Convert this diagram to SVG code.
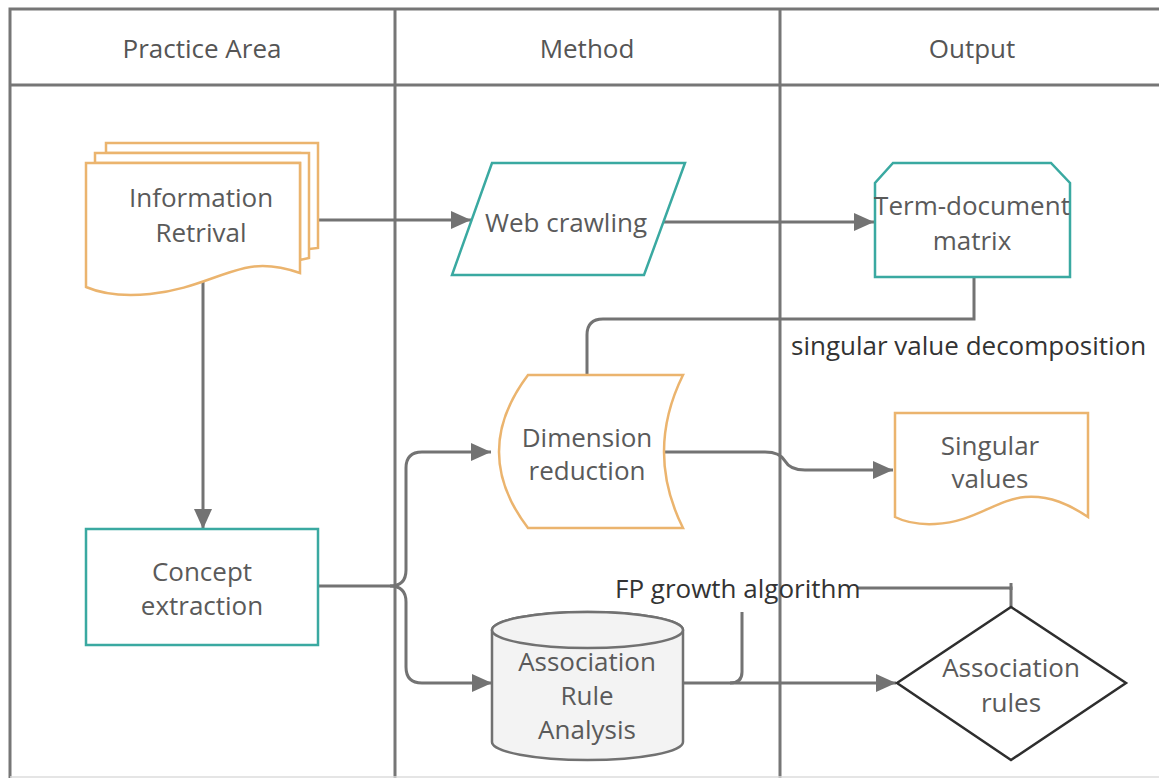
<svg xmlns="http://www.w3.org/2000/svg" width="1159" height="778" viewBox="0 0 1159 778">
  <defs>
    <style>
      .lane { fill: none; stroke: #767676; stroke-width: 3; }
      .hdr { font-family: "Open Sans", "Noto Sans", sans-serif; font-size: 26px; fill: #555; text-anchor: middle; dominant-baseline: central; }
      .lbl { font-family: "Open Sans", "Noto Sans", sans-serif; font-size: 26px; fill: #5a5a5a; text-anchor: middle; dominant-baseline: central; }
      .edge-lbl { font-family: "Open Sans", "Noto Sans", sans-serif; font-size: 26px; fill: #333; dominant-baseline: central; }
      .orange { fill: #fff; stroke: #EBB46E; stroke-width: 2.5; }
      .teal { fill: #fff; stroke: #3AA9A1; stroke-width: 2.5; }
      .gray { fill: #f3f3f3; stroke: #717171; stroke-width: 2.5; }
      .dark { fill: #fff; stroke: #2e2e2e; stroke-width: 2.5; }
      .conn { fill: none; stroke: #737373; stroke-width: 3; }
    </style>
    <marker id="arr" viewBox="0 0 20 20" refX="20" refY="10" markerWidth="20" markerHeight="20" orient="auto" markerUnits="userSpaceOnUse">
      <path d="M0,1 L20,10 L0,19 Z" fill="#737373"/>
    </marker>
  </defs>

  <rect width="1159" height="778" fill="#fff"/>

  <!-- swimlane grid -->
  <g id="lanes">
    <path class="lane" d="M1159,9 H10 V778"/>
    <path class="lane" d="M10,85 H1159"/>
    <path class="lane" d="M395,9 V778"/>
    <path class="lane" d="M780,9 V778"/>
    <path d="M10,777 H1159" stroke="#dcdcdc" stroke-width="1.5"/>
    <text class="hdr" x="202" y="48">Practice Area</text>
    <text class="hdr" x="587" y="48">Method</text>
    <text class="hdr" x="972" y="48">Output</text>
  </g>

  <!-- connectors -->
  <g id="connectors">
    <path class="conn" d="M318,220 H471" marker-end="url(#arr)"/>
    <path class="conn" d="M664,222 H874" marker-end="url(#arr)"/>
    <path class="conn" d="M203,282 V529" marker-end="url(#arr)"/>
    <path class="conn" d="M318,586 H390 Q406,586 406,570 V468 Q406,452 422,452 H491" marker-end="url(#arr)"/>
    <path class="conn" d="M390,586 Q406,586 406,602 V667 Q406,683 422,683 H492" marker-end="url(#arr)"/>
    <path class="conn" d="M974,277 V319 H603 Q587,319 587,335 V375"/>
    <path class="conn" d="M663,452 H765 Q780,452 785,461 Q790,470 805,470 H893" marker-end="url(#arr)"/>
    <path class="conn" d="M683,683 H896" marker-end="url(#arr)"/>
    <path class="conn" d="M742,612 V672 Q742,683 730,683"/>
    <path class="conn" d="M858,588 H1011 V607"/>
    <path class="conn" d="M1011,583 V590" stroke-width="2"/>
    <text class="edge-lbl" x="791" y="345">singular value decomposition</text>
    <text class="edge-lbl" x="615" y="588">FP growth algorithm</text>
  </g>

  <!-- Information Retrival: stacked documents -->
  <g id="information-retrival">
    <path class="orange" d="M106,143 H318 V248 L300,250 V153 H106 Z"/>
    <path class="orange" d="M95,153 H309 V258 L300,260 V163 H95 Z"/>
    <path class="orange" d="M86,163 H300 V273 C280,266 262,264 245,268 C215,275 190,290 150,294 C120,297 100,293 86,287 Z"/>
    <text class="lbl" x="201" y="197">Information</text>
    <text class="lbl" x="201" y="232">Retrival</text>
  </g>

  <!-- Web crawling: parallelogram -->
  <g id="web-crawling">
    <path class="teal" d="M492,163 H685 L644,275 H452 Z"/>
    <text class="lbl" x="566" y="222">Web crawling</text>
  </g>

  <!-- Term-document matrix: chamfered box -->
  <g id="term-document-matrix">
    <path class="teal" d="M893,163 H1051 L1070,183 V277 H875 V183 Z"/>
    <text class="lbl" x="972" y="205">Term-document</text>
    <text class="lbl" x="972" y="240">matrix</text>
  </g>

  <!-- Dimension reduction: stored data shape -->
  <g id="dimension-reduction">
    <path class="orange" d="M528,375 H683 Q645,452 683,528 H528 Q470,452 528,375 Z"/>
    <text class="lbl" x="587" y="437">Dimension</text>
    <text class="lbl" x="587" y="470">reduction</text>
  </g>

  <!-- Singular values: document -->
  <g id="singular-values">
    <path class="orange" d="M895,413 H1088 V517 C1070,505 1050,495 1025,497 C995,500 975,522 935,524 C915,525 903,521 895,517 Z"/>
    <text class="lbl" x="990" y="445">Singular</text>
    <text class="lbl" x="990" y="478">values</text>
  </g>

  <!-- Concept extraction: process box -->
  <g id="concept-extraction">
    <rect class="teal" x="86" y="529" width="232" height="116"/>
    <text class="lbl" x="202" y="571">Concept</text>
    <text class="lbl" x="202" y="605">extraction</text>
  </g>

  <!-- Association Rule Analysis: cylinder -->
  <g id="association-rule-analysis">
    <path class="gray" d="M492,630 V742 A95.5,18 0 0 0 683,742 V630 A95.5,18 0 0 0 492,630 Z"/>
    <ellipse class="gray" cx="587.5" cy="630" rx="95.5" ry="18"/>
    <text class="lbl" x="587" y="661">Association</text>
    <text class="lbl" x="587" y="695">Rule</text>
    <text class="lbl" x="587" y="729">Analysis</text>
  </g>

  <!-- Association rules: decision diamond -->
  <g id="association-rules">
    <path class="dark" d="M1011,607 L1126,683 L1011,760 L897,683 Z"/>
    <text class="lbl" x="1011" y="667">Association</text>
    <text class="lbl" x="1011" y="702">rules</text>
  </g>
</svg>
